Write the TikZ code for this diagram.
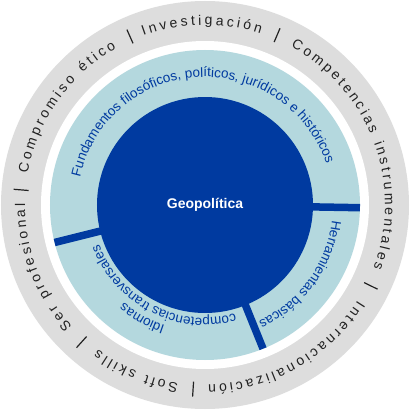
\documentclass[tikz,border=0pt]{standalone}
\usepackage{fontspec}
\setmainfont{Liberation Sans}
\usetikzlibrary{decorations.text}
\definecolor{geoblue}{RGB}{0,58,160}
\definecolor{geolight}{RGB}{180,216,222}
\definecolor{geogray}{RGB}{221,221,221}
\definecolor{geotext}{RGB}{34,34,34}
\newcommand{\outerfont}{\fontsize{14}{16}\selectfont\color{geotext}}
\newcommand{\innerfont}{\fontsize{13.5}{16}\selectfont\color{geoblue}}

\begin{document}
\begin{tikzpicture}[
    ringlabel/.style={decorate, decoration={text along path, text align=fit to path, text={|\outerfont|#1}}},
    segmentlabel/.style={decorate, decoration={text along path, text align=center, text={|\innerfont|#1}}},
    divider/.style={geoblue, line width=7.5pt},
    ringtick/.style={geotext, line width=1.2pt}
]

\useasboundingbox[fill=white] (-205pt,-205pt) rectangle (205pt,205pt);

% Rings (outer to inner)
\fill[geogray] (0,0) circle[radius=204pt];
\fill[white] (0,0) circle[radius=164pt];
\fill[geolight] (0,0) circle[radius=155pt];
\fill[geoblue] (0,0) circle[radius=108pt];

% Dividers of the inner ring
\foreach \a in {-1,-68,194}
    \draw[divider] (\a:100pt) -- (\a:155pt);

% Core
\node[text=white, font=\bfseries\fontsize{14}{16}\selectfont] (core) at (0,0) {Geopolítica};

% Inner ring labels
\path[segmentlabel={Fundamentos filosóficos, políticos, jurídicos e históricos}]
    (169:128pt) arc[start angle=169, end angle=17, radius=128pt];
\path[segmentlabel={Herramientas básicas}]
    (-3:128pt) arc[start angle=-3, end angle=-69, radius=128pt];
\path[segmentlabel={Idiomas}]
    (-95:127pt) arc[start angle=-95, end angle=-143, radius=127pt];
\path[segmentlabel={competencias transversales}]
    (-70:113pt) arc[start angle=-70, end angle=-164, radius=113pt];

% Outer ring labels
\path[ringlabel={Investigación}] (110:180pt) arc[start angle=110, end angle=72, radius=180pt];
\path[ringlabel={Competencias instrumentales}] (61.5:180pt) arc[start angle=61.5, end angle=-20.5, radius=180pt];
\path[ringlabel={Internacionalización}] (-32:180pt) arc[start angle=-32, end angle=-89, radius=180pt];
\path[ringlabel={Soft skills}] (-98.5:180pt) arc[start angle=-98.5, end angle=-126.5, radius=180pt];
\path[ringlabel={Ser profesional}] (-137.5:180pt) arc[start angle=-137.5, end angle=-180.5, radius=180pt];
\path[ringlabel={Compromiso ético}] (170:180pt) arc[start angle=170, end angle=119.5, radius=180pt];

% Separators
\foreach \a in {175.3,114,67,-26,-93.7,-132}
    \draw[ringtick] (\a:177pt) -- (\a:192pt);

\end{tikzpicture}
\end{document}
